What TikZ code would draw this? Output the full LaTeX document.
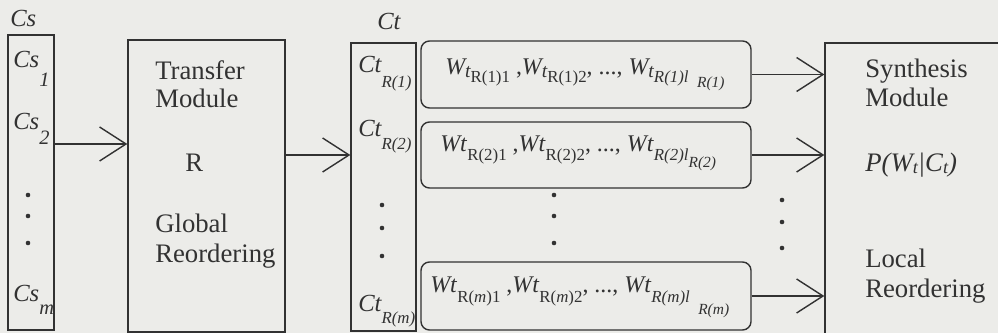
\documentclass[tikz,border=0pt]{standalone}
\usepackage{fontspec}
\setmainfont{Liberation Serif}
\usetikzlibrary{arrows.meta,fit}

\definecolor{paper}{RGB}{236,236,233}
\definecolor{ink}{RGB}{50,50,50}

% lowered, smaller text for the indices
\newcommand{\low}[3]{\raisebox{-#1pt}{\fontsize{#2}{#2}\selectfont #3}}
\newcommand{\tsm}{\low{1.5}{14}{t}}

\begin{document}
\begin{tikzpicture}[x=0.025cm,y=-0.025cm,
  box/.style={draw=ink,line width=1pt,inner sep=0pt},
  wbox/.style={box,rounded corners=6pt},
  txt/.style={text=ink,font=\fontsize{19}{20}\selectfont,inner sep=0pt,anchor=base west},
  lab/.style={txt,font=\fontsize{17.5}{18}\selectfont\itshape},
  wrow/.style={txt,font=\fontsize{17}{18}\selectfont},
  feed/.style={draw=ink,line width=1pt,-{Straight Barb[length=0.66cm,width=0.85cm,line width=1pt]}}]

\clip (0,0) rectangle (998,333);
\fill[paper] (0,0) rectangle (998,333);

% boxes
\node[box,fit={(8,35) (54,330)}] (cs) {};
\node[box,fit={(128,40) (285,332)}] (tr) {};
\node[box,fit={(351,43) (416,331)}] (ct) {};
\node[wbox,fit={(421,41) (751,108)}] (w1) {};
\node[wbox,fit={(421,122) (751,188)}] (w2) {};
\node[wbox,fit={(421,262) (751,330)}] (w3) {};
\node[box,fit={(825,43) (1010,345)}] (syn) {};

% source side
\node[lab] (cstop) at (10,27) {Cs};
\node[lab] (cs1) at (13,68) {Cs\low{13.5}{14.5}{1}};
\node[lab] (cs2) at (13,130) {Cs\low{10.5}{14.5}{2}};
\node[lab] (csm) at (13,302) {Cs\low{9}{14.5}{m}};

\node[txt] (trA) at (155,80) {Transfer};
\node[txt] (trB) at (155,108) {Module};
\node[txt] (trR) at (185,172) {R};
\node[txt] (trC) at (155,233) {Global};
\node[txt] (trD) at (155,263) {Reordering};

% target side
\node[lab] (cttop) at (377,30) {Ct};
\node[lab] (ct1) at (358,73) {Ct\low{10}{12}{R(1)}};
\node[lab] (ct2) at (358,137) {Ct\low{9}{12}{R(2)}};
\node[lab] (ctm) at (358,312) {Ct\low{8}{12}{R(\textit{m})}};

\node[wrow] (wt1) at (445,75) {\textit{W\tsm}\low{5}{12}{R(1)1}\ ,\textit{W\tsm}\low{5}{12}{R(1)2}, ..., \textit{W\tsm}\low{5}{12}{\textit{R(1)l}\ \ \low{4}{11}{\textit{R(1)}}}};
\node[wrow] (wt2) at (440,152) {\textit{Wt}\low{6}{12}{R(2)1}\ ,\textit{Wt}\low{6}{12}{R(2)2}, ..., \textit{Wt}\low{6}{12}{\textit{R(2)l}\low{5}{11}{\textit{R(2)}}}};
\node[wrow] (wtm) at (430,293) {\textit{Wt}\low{6.5}{12}{R(\textit{m})1}\ ,\textit{Wt}\low{6.5}{12}{R(\textit{m})2}, ..., \textit{Wt}\low{6.5}{12}{\textit{R(m)l}\ \ \low{9}{11}{\textit{R(m)}}}};

\node[txt] (syA) at (865,78) {Synthesis};
\node[txt] (syB) at (865,107) {Module};
\node[txt] (syP) at (865,172) {\textit{P(W\low{1}{13}{t}|C\low{1}{13}{t})}};
\node[txt] (syC) at (865,268) {Local};
\node[txt] (syD) at (865,298) {Reordering};

% dots
\foreach \y in {195,216,243}
{
\fill[ink] (28,\y) circle (2.3);
\fill[ink] (554,\y) circle (2.3);
}
\foreach \y in {205,228,256}
{
\fill[ink] (382,\y) circle (2.3);
}
\foreach \y in {200,222,248}
{
\fill[ink] (782,\y) circle (2.3);
}

% arrows
\coordinate (in2) at (0,144);
\draw[feed] (cs.east |- in2) -- (tr.west |- in2);
\draw[feed] (tr.east |- w2) -- (ct.west |- w2);
\draw[feed] (w1.east) -- (syn.west |- w1);
\draw[feed] (w2.east) -- (syn.west |- w2);
\draw[feed] (w3.east) -- (syn.west |- w3);
\end{tikzpicture}
\end{document}
